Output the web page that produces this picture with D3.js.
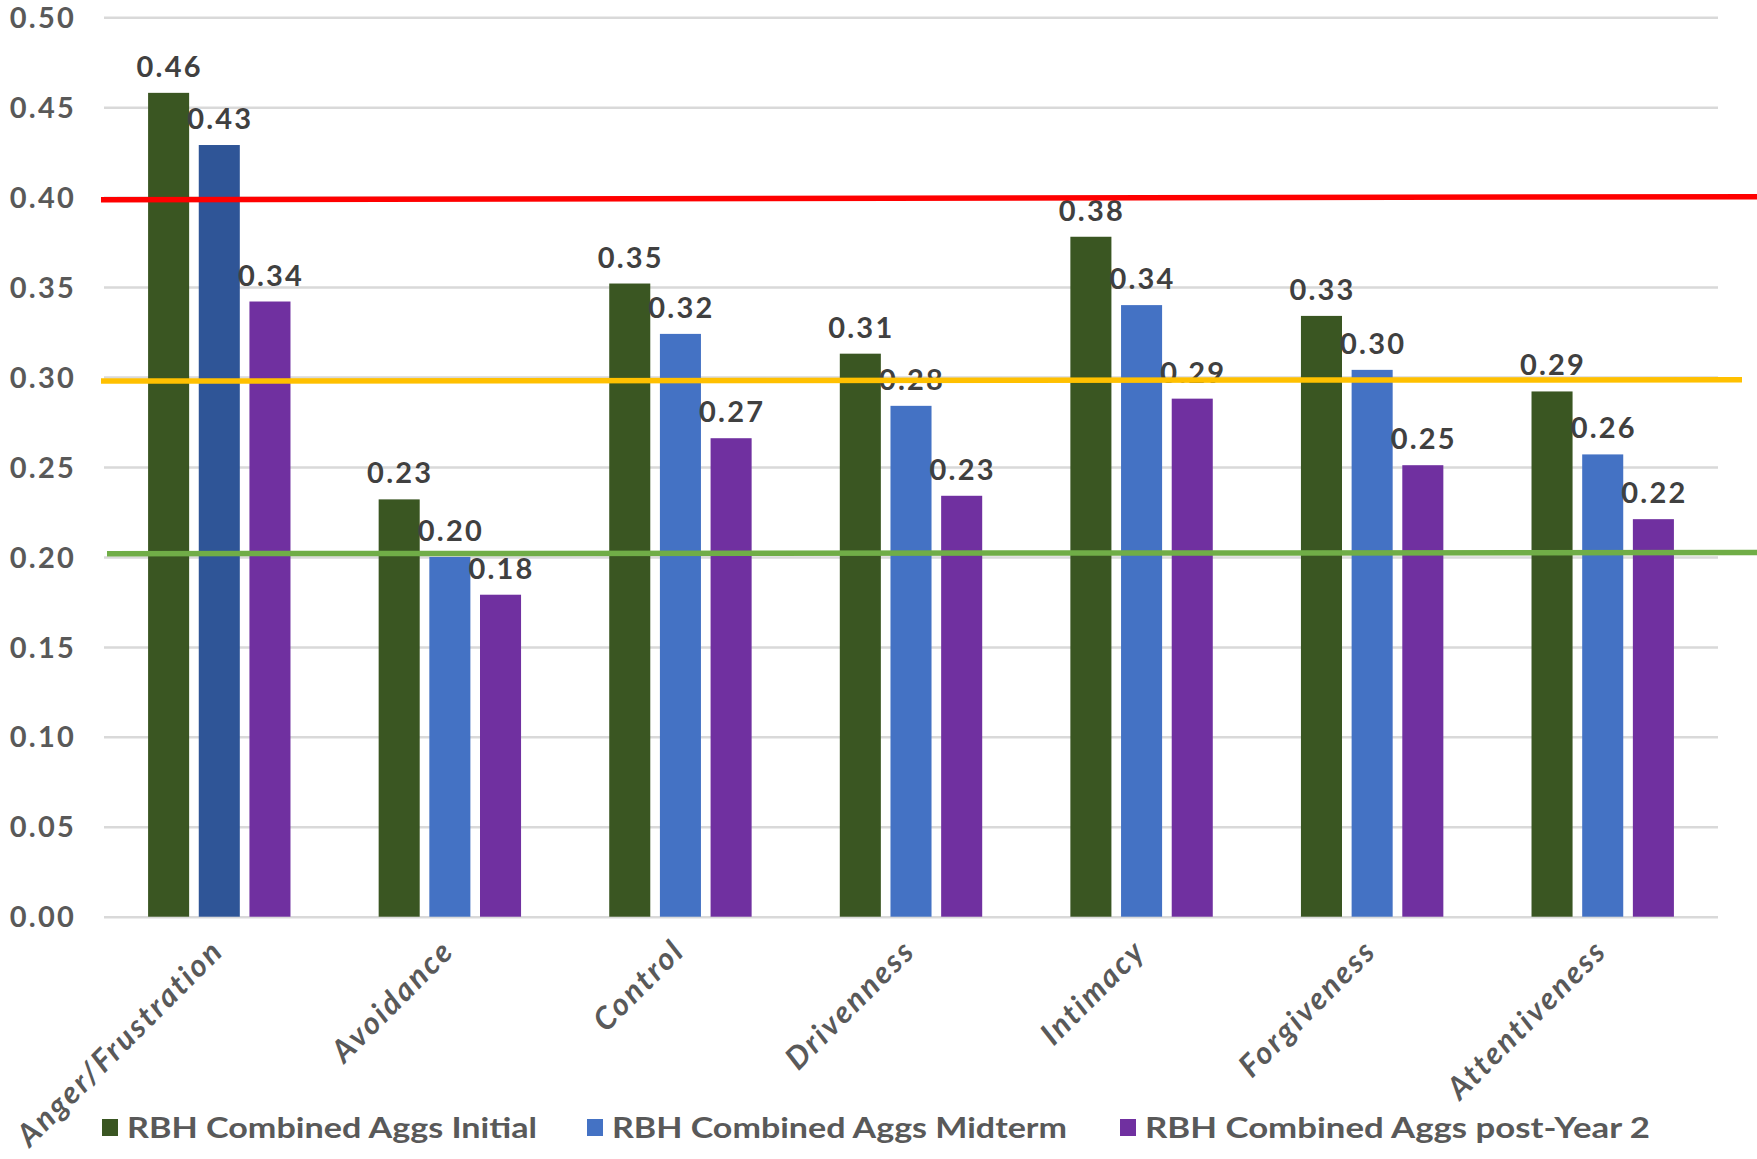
<!DOCTYPE html>
<html>
<head>
<meta charset="utf-8">
<script src="https://cdn.jsdelivr.net/npm/d3@7"></script>
<style>
  html, body { margin: 0; padding: 0; background: #ffffff; }
  svg { display: block; }
  text { font-family: Lato, "Open Sans", sans-serif; }
</style>
</head>
<body>
<svg id="chart" width="1757" height="1159"></svg>
<script>
// Categories along the x axis
const categories = ["Anger/Frustration", "Avoidance", "Control", "Drivenness", "Intimacy", "Forgiveness", "Attentiveness"];

// Series names (legend order)
const seriesNames = ["RBH Combined Aggs Initial", "RBH Combined Aggs Midterm", "RBH Combined Aggs post-Year 2"];

// Series values, one per category
const initialValues  = [0.458, 0.232, 0.352, 0.313, 0.378, 0.334, 0.292];
const midtermValues  = [0.429, 0.200, 0.324, 0.284, 0.340, 0.304, 0.257];
const postYear2Values = [0.342, 0.179, 0.266, 0.234, 0.288, 0.251, 0.221];

// Reference threshold levels (start, end) drawn across the chart
const thresholdStart = [0.3986, 0.2978, 0.2018];
const thresholdEnd   = [0.4003, 0.2985, 0.2024];

// Y-axis tick labels
const yTicks = [0.00, 0.05, 0.10, 0.15, 0.20, 0.25, 0.30, 0.35, 0.40, 0.45, 0.50];

const seriesValues = [initialValues, midtermValues, postYear2Values];
const seriesColors = ["#3a5622", "#4472c4", "#7030a0"];
const thresholdColors = ["#ff0000", "#ffc000", "#70ad47"];

const svg = d3.select("#chart");
const W = 1757;

const x0 = d3.scaleBand().domain(categories).range([104, 1718]).padding(0);
const x1 = d3.scaleBand().domain(seriesNames).range([-71.2, 71.2]).paddingInner(0.19).paddingOuter(0);
const y = d3.scaleLinear().domain([0, 0.5]).range([916.7, 17.3]);

// Gridlines
const grid = svg.append("g")
  .attr("transform", "translate(104,0)")
  .call(d3.axisLeft(y).tickValues(yTicks).tickSize(-(1718 - 104)).tickFormat(""));
grid.select(".domain").remove();
grid.selectAll(".tick line").attr("stroke", "#d9d9d9").attr("stroke-width", 2.5);

// Y tick labels
const yAxis = svg.append("g").attr("transform", "translate(76,0)")
  .call(d3.axisLeft(y).tickValues(yTicks).tickSize(0).tickPadding(0).tickFormat(d3.format(".2f")));
yAxis.select(".domain").remove();
yAxis.selectAll("text")
  .attr("fill", "#595959")
  .style("font-size", "29px")
  .style("font-weight", "700")
  .style("letter-spacing", "2.2px")
  .attr("dy", "0.35em");

// Bars
const rows = categories.map((c, i) => ({
  category: c,
  values: seriesNames.map((s, k) => ({ series: s, k, value: seriesValues[k][i], category: c, idx: i }))
}));

const groups = svg.append("g").selectAll("g.group")
  .data(rows).join("g")
  .attr("class", "group")
  .attr("transform", d => `translate(${x0(d.category) + x0.bandwidth() / 2},0)`);

groups.selectAll("rect")
  .data(d => d.values).join("rect")
  .attr("x", d => x1(d.series))
  .attr("width", x1.bandwidth())
  .attr("y", d => y(d.value))
  .attr("height", d => y(0) - y(d.value))
  .attr("fill", d => (d.k === 1 && d.idx === 0) ? "#2f5597" : seriesColors[d.k]);

// Threshold lines
svg.append("g").selectAll("line")
  .data(thresholdStart.map((v, i) => ({ a: v, b: thresholdEnd[i], color: thresholdColors[i], i })))
  .join("line")
  .attr("x1", d => x0.range()[0] - (d.i === 2 ? -3 : 3))
  .attr("x2", d => d.i === 1 ? W - 15 : W)
  .attr("y1", d => y(d.a))
  .attr("y2", d => y(d.b))
  .attr("stroke", d => d.color)
  .attr("stroke-width", 5.5);

// Value labels
groups.selectAll("text.val")
  .data(d => d.values).join("text")
  .attr("class", "val")
  .attr("x", d => x1(d.series) + x1.bandwidth() / 2 + 1)
  .attr("y", d => y(d.value) - 16)
  .attr("text-anchor", "middle")
  .attr("fill", "#404040")
  .style("font-size", "29px")
  .style("font-weight", "700")
  .style("letter-spacing", "2.2px")
  .text(d => d3.format(".2f")(d.value));

// Category labels, rotated
svg.append("g").selectAll("text.cat")
  .data(categories).join("text")
  .attr("class", "cat")
  .attr("transform", d => `translate(${x0(d) + x0.bandwidth() / 2 + 6},${y(0) + 36}) rotate(-45)`)
  .attr("text-anchor", "end")
  .attr("fill", "#595959")
  .style("font-size", "31px")
  .style("font-weight", "700")
  .style("font-style", "italic")
  .style("letter-spacing", "2.4px")
  .text(d => d);

// Legend
const legendX = [102, 587, 1120];
const legendW = [410, 455, 505];
const legend = svg.append("g").selectAll("g.leg")
  .data(seriesNames).join("g")
  .attr("class", "leg")
  .attr("transform", (d, i) => `translate(${legendX[i]},1128)`);
legend.append("rect")
  .attr("x", 0).attr("y", -9).attr("width", 16).attr("height", 17)
  .attr("fill", (d, i) => seriesColors[i]);
legend.append("text")
  .attr("x", 25).attr("y", 10)
  .attr("fill", "#595959")
  .style("font-size", "29px")
  .style("font-weight", "700")
  .attr("textLength", (d, i) => legendW[i])
  .attr("lengthAdjust", "spacingAndGlyphs")
  .text(d => d);
</script>
</body>
</html>
